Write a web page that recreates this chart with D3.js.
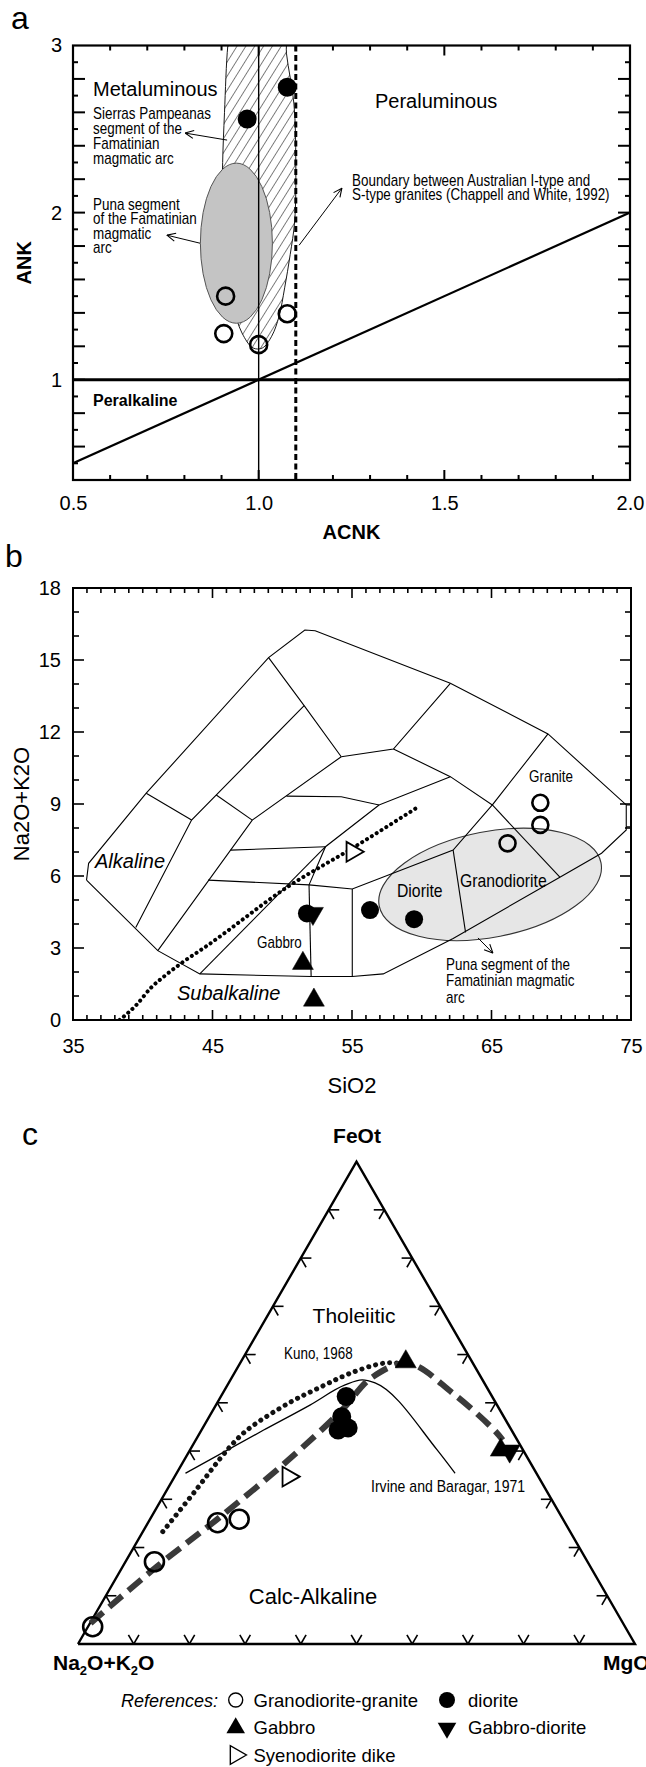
<!DOCTYPE html>
<html>
<head>
<meta charset="utf-8">
<title>Granitoid classification diagrams</title>
<script src="https://cdn.jsdelivr.net/npm/d3@7/dist/d3.min.js"></script>
<style>
  html,body{margin:0;padding:0;background:#fff;}
  svg{display:block;}
  text{font-family:"Liberation Sans",Arial,Helvetica,sans-serif;fill:#000;}
</style>
</head>
<body>
<svg id="fig" width="646" height="1767" viewBox="0 0 646 1767"></svg>
<script>
// ================= Panel a: Shand index, ACNK vs ANK =================
const acnkLabels = [0.5, 1.0, 1.5, 2.0];
const ankLabels = [1, 2, 3];
// diorite samples (filled) and granodiorite-granite samples (open)
const dioriteA = [[0.969, 2.56], [1.077, 2.75]];
const granitoidA = [[0.911, 1.50], [1.077, 1.395], [0.906, 1.276], [1.0, 1.21]];
// Sierras Pampeanas field outline (hatched)
const sierrasField = [[0.927, 3.15], [0.917, 3.0], [0.908, 2.6], [0.903, 2.3], [0.902, 2.0], [0.91, 1.7],
  [0.93, 1.45], [0.955, 1.28], [0.985, 1.19], [1.01, 1.19], [1.035, 1.26], [1.055, 1.38], [1.07, 1.55],
  [1.085, 1.75], [1.097, 1.95], [1.1, 2.3], [1.095, 2.65], [1.075, 2.95], [1.068, 3.15]];
// Puna segment field (grey ellipse): centre, semi-axes in data units
const punaFieldA = {acnk: 0.94, ank: 1.817, ra: 0.097, rb: 0.479};

// ================= Panel b: TAS (SiO2 vs Na2O+K2O) =================
const sio2Labels = [35, 45, 55, 65, 75];
const alkLabels = [0, 3, 6, 9, 12, 15, 18];
const tasOutline = [[35.97, 5.83], [36.12, 6.53], [40.25, 9.45], [49.02, 15.1], [51.62, 16.25], [52.36, 16.22],
  [62.05, 14.03], [69.05, 11.92], [74.66, 8.96], [74.66, 7.92], [72.89, 6.95], [69.9, 5.95], [62.25, 3.40],
  [57.24, 1.92], [55.02, 1.81], [52.07, 1.81], [44.09, 1.92], [41.08, 2.89], [35.97, 5.83]];
const tasBoundaries = [
  [[74.66, 8.96], [75, 8.96]],
  [[74.66, 8.05], [75, 8.05]],
  [[39.5, 3.85], [43.5, 8.33], [51.57, 13.1]],
  [[40.25, 9.45], [43.5, 8.33]],
  [[45.27, 9.375], [47.85, 8.33]],
  [[41.08, 2.89], [47.85, 8.33], [54.23, 10.97]],
  [[49.02, 15.1], [51.57, 13.1], [54.23, 10.97]],
  [[54.23, 10.97], [57.97, 11.29], [62.05, 14.03]],
  [[57.97, 11.29], [62.05, 10.14], [65.06, 8.96], [69.05, 11.92]],
  [[65.06, 8.96], [62.25, 7.08], [55.02, 5.46], [51.92, 5.63], [44.68, 5.83]],
  [[62.25, 7.08], [63.14, 3.65]],
  [[65.06, 8.96], [69.9, 5.95]],
  [[55.02, 5.46], [55.02, 1.81]],
  [[51.92, 5.63], [52.07, 1.81]],
  [[46.3, 7.08], [53.1, 7.22]],
  [[44.09, 1.92], [53.1, 7.22]],
  [[51.92, 5.63], [53.1, 7.22], [56.94, 8.96]],
  [[50.3, 9.33], [54.23, 9.3], [56.94, 8.96], [62.05, 10.14]]
];
// alkaline / subalkaline divide
const alkalineDivide = [[38.33, 0], [39.5, 0.6], [40.6, 1.35], [41.6, 1.85], [42.8, 2.38], [44.5, 3.05],
  [50.4, 5.55], [55.2, 7.22], [59.8, 8.9]];
// Puna segment field: centre, semi-axes (SiO2 units, alkali units), tilt in degrees
const punaFieldB = {si: 64.9, alk: 5.65, ra: 8.1, rb: 2.2, tilt: -11};
const granitoidB = [[68.5, 9.05], [68.5, 8.13], [66.15, 7.36]];
const dioriteB = [[51.77, 4.44], [56.29, 4.58], [59.45, 4.2]];
const gabbroDioriteB = [[52.2, 4.44]];
const gabbroB = [[51.48, 2.36], [52.27, 0.83]];
const dikeB = [[55.02, 7.01]];

// ================= Panel c: AFM ternary [A, F, M] =================
const granitoidC = [[0.624, 0.2515, 0.125], [0.581, 0.2585, 0.160], [0.778, 0.1706, 0.052], [0.956, 0.0359, 0.0084]];
const dioriteC = [[0.262, 0.513, 0.225], [0.291, 0.471, 0.238], [0.311, 0.4436, 0.245], [0.291, 0.448, 0.261]];
const gabbroC = [[0.119, 0.585, 0.296], [0.040, 0.402, 0.558]];
const gabbroDioriteC = [[0.025, 0.400, 0.575]];
const dikeC = [[0.449, 0.347, 0.204]];
const kunoLine = [[0.731, 0.2328, 0.0358], [0.636, 0.313, 0.0512], [0.527, 0.4057, 0.0677], [0.474, 0.4436, 0.082],
  [0.373, 0.499, 0.1282], [0.296, 0.5334, 0.1703], [0.231, 0.5612, 0.2081], [0.161, 0.5819, 0.257], [0.122, 0.5815, 0.2963]];
const irvineLine = [[0.630, 0.3539, 0.0159], [0.445, 0.4436, 0.1116], [0.336, 0.4954, 0.1688], [0.252, 0.5369, 0.211],
  [0.216, 0.5473, 0.2363], [0.196, 0.541, 0.2627], [0.154, 0.4022, 0.4434], [0.146, 0.3539, 0.4999]];
const trendLine = [[0.956, 0.0429, 0.0011], [0.779, 0.1602, 0.061], [0.618, 0.2606, 0.1218], [0.432, 0.3814, 0.187],
  [0.283, 0.4851, 0.2315], [0.199, 0.5508, 0.2503], [0.117, 0.5819, 0.3015], [0.067, 0.5197, 0.4137],
  [0.031, 0.4436, 0.5258], [0.026, 0.4229, 0.5511]];
const ternaryTicks = [0.1, 0.2, 0.3, 0.4, 0.5, 0.6, 0.7, 0.8, 0.9];
const legendItems = [
  {sym: "circleOpen", label: "Granodiorite-granite", col: 0, row: 0},
  {sym: "circle", label: "diorite", col: 1, row: 0},
  {sym: "triangle", label: "Gabbro", col: 0, row: 1},
  {sym: "triangleDown", label: "Gabbro-diorite", col: 1, row: 1},
  {sym: "triangleRight", label: "Syenodiorite dike", col: 0, row: 2}
];

// ---------------------------------------------------------------------
const svg = d3.select("#fig");
const defs = svg.append("defs");

defs.append("marker").attr("id", "openArrow").attr("viewBox", "0 0 10 10")
  .attr("refX", 9.5).attr("refY", 5).attr("markerWidth", 10).attr("markerHeight", 10)
  .attr("markerUnits", "userSpaceOnUse").attr("orient", "auto")
  .append("path").attr("d", "M1,1 L9.5,5 L1,9").attr("fill", "none")
  .attr("stroke", "#000").attr("stroke-width", 1.1);

defs.append("pattern").attr("id", "hatch").attr("patternUnits", "userSpaceOnUse")
  .attr("width", 7.5).attr("height", 7.5).attr("patternTransform", "rotate(32)")
  .append("line").attr("x1", 0).attr("y1", 0).attr("x2", 0).attr("y2", 7.5)
  .attr("stroke", "#000").attr("stroke-width", 1);

const symbolPath = {
  triangle: d3.symbol(d3.symbolTriangle, 190)(),
  triangleDown: d3.symbol(d3.symbolTriangle, 190)(),
  triangleRight: d3.symbol(d3.symbolTriangle, 170)()
};
function drawMarks(g, pts, kind, pos, r) {
  const sel = g.append("g").selectAll("*").data(pts).enter();
  if (kind === "circle" || kind === "circleOpen") {
    sel.append("circle")
      .attr("cx", d => pos(d)[0]).attr("cy", d => pos(d)[1]).attr("r", r)
      .attr("fill", kind === "circle" ? "#000" : "none")
      .attr("stroke", "#000").attr("stroke-width", kind === "circle" ? 0 : 2.6);
  } else {
    const rot = kind === "triangleDown" ? 180 : kind === "triangleRight" ? 90 : 0;
    sel.append("path").attr("d", symbolPath[kind])
      .attr("transform", d => `translate(${pos(d)[0]},${pos(d)[1]}) rotate(${rot})`)
      .attr("fill", kind === "triangleRight" ? "#fff" : "#000")
      .attr("stroke", "#000").attr("stroke-width", kind === "triangleRight" ? 1.8 : 0.5);
  }
}
function styleAxis(g) {
  g.select(".domain").remove();
  g.selectAll(".tick line").remove();
}
// condensed annotation text (horizontally compressed Liberation Sans)
function narrow(g, x, y, lines, size, dy, sx) {
  const t = g.append("text").attr("transform", `translate(${x},${y}) scale(${sx || 0.84},1)`)
    .style("font-size", size + "px");
  lines.forEach((s, i) => t.append("tspan").attr("x", 0).attr("y", i * (dy || 0)).text(s));
  return t;
}

// ======================= Panel a =======================
const A = {l: 73, r: 630, t: 45.5, b: 480};
const xa = d3.scaleLinear().domain([0.5, 2.0]).range([A.l, A.r]);
const ya = d3.scaleLinear().domain([0.4, 3.0]).range([A.b, A.t]);
const ga = svg.append("g");
defs.append("clipPath").attr("id", "clipA").append("rect")
  .attr("x", A.l).attr("y", A.t).attr("width", A.r - A.l).attr("height", A.b - A.t);

const gaIn = ga.append("g").attr("clip-path", "url(#clipA)");
gaIn.append("path").datum(sierrasField)
  .attr("d", d3.line().x(d => xa(d[0])).y(d => ya(d[1])).curve(d3.curveCatmullRomClosed.alpha(0.5)))
  .attr("fill", "url(#hatch)").attr("stroke", "#000").attr("stroke-width", 0.9);
gaIn.append("ellipse")
  .attr("cx", xa(punaFieldA.acnk)).attr("cy", ya(punaFieldA.ank))
  .attr("rx", xa(punaFieldA.acnk + punaFieldA.ra) - xa(punaFieldA.acnk))
  .attr("ry", ya(punaFieldA.ank - punaFieldA.rb) - ya(punaFieldA.ank))
  .attr("fill", "#c4c4c4").attr("stroke", "#555").attr("stroke-width", 1);
// reference lines
gaIn.append("line").attr("x1", xa(1)).attr("x2", xa(1)).attr("y1", A.t).attr("y2", A.b)
  .attr("stroke", "#000").attr("stroke-width", 1.4);
gaIn.append("line").attr("x1", xa(1.1)).attr("x2", xa(1.1)).attr("y1", A.t).attr("y2", A.b)
  .attr("stroke", "#000").attr("stroke-width", 3).attr("stroke-dasharray", "6,3.5");
gaIn.append("line").attr("x1", A.l).attr("x2", A.r).attr("y1", ya(1)).attr("y2", ya(1))
  .attr("stroke", "#000").attr("stroke-width", 3);
gaIn.append("line").attr("x1", xa(0.5)).attr("y1", ya(0.5)).attr("x2", xa(2.0)).attr("y2", ya(2.0))
  .attr("stroke", "#000").attr("stroke-width", 2.2);

drawMarks(ga, dioriteA, "circle", d => [xa(d[0]), ya(d[1])], 9.5);
drawMarks(ga, granitoidA, "circleOpen", d => [xa(d[0]), ya(d[1])], 8.5);

// annotation arrows
const arrowsA = [
  [[0.915, 2.434], [0.802, 2.476]],
  [[0.842, 1.817], [0.753, 1.865]],
  [[1.109, 1.805], [1.224, 2.146]]
];
ga.selectAll(".arrA").data(arrowsA).enter().append("line")
  .attr("x1", d => xa(d[0][0])).attr("y1", d => ya(d[0][1]))
  .attr("x2", d => xa(d[1][0])).attr("y2", d => ya(d[1][1]))
  .attr("stroke", "#000").attr("stroke-width", 1).attr("marker-end", "url(#openArrow)");

// inward ticks
const acnkMinor = d3.range(6, 20).map(d => d / 10);
const ankMinor = d3.range(5, 30).map(d => d / 10);
const ankLen = d => (Math.round(d * 10) % 2 === 0 ? 12 : 5);
const acnkLen = d => (Math.abs(d - 1.5) < 1e-6 || Math.abs(d - 1.0) < 1e-6 ? 10 : 5);
[["bottom", A.b], ["top", A.t]].forEach(([side, yPos]) => {
  acnkMinor.forEach(v => {
    ga.append("line").attr("x1", xa(v)).attr("x2", xa(v))
      .attr("y1", yPos).attr("y2", side === "bottom" ? yPos - acnkLen(v) : yPos + acnkLen(v))
      .attr("stroke", "#000").attr("stroke-width", 2);
  });
});
[["left", A.l], ["right", A.r]].forEach(([side, xPos]) => {
  ankMinor.forEach(v => {
    ga.append("line").attr("y1", ya(v)).attr("y2", ya(v))
      .attr("x1", xPos).attr("x2", side === "left" ? xPos + ankLen(v) : xPos - ankLen(v))
      .attr("stroke", "#000").attr("stroke-width", 2);
  });
});
const axA_b = ga.append("g").attr("transform", `translate(0,${A.b})`)
  .call(d3.axisBottom(xa).tickValues(acnkLabels).tickSize(0).tickPadding(16).tickFormat(d3.format(".1f")));
styleAxis(axA_b);
axA_b.selectAll("text").style("font-size", "20px");
const axA_l = ga.append("g").attr("transform", `translate(${A.l},0)`)
  .call(d3.axisLeft(ya).tickValues(ankLabels).tickSize(0).tickPadding(11).tickFormat(d3.format("d")));
styleAxis(axA_l);
axA_l.selectAll("text").style("font-size", "20px");
ga.append("rect").attr("x", A.l).attr("y", A.t).attr("width", A.r - A.l).attr("height", A.b - A.t)
  .attr("fill", "none").attr("stroke", "#000").attr("stroke-width", 2.2);

ga.append("text").attr("x", (A.l + A.r) / 2).attr("y", 539).attr("text-anchor", "middle")
  .style("font-size", "20px").style("font-weight", "bold").text("ACNK");
ga.append("text").attr("transform", `translate(31,${(A.t + A.b) / 2}) rotate(-90)`).attr("text-anchor", "middle")
  .style("font-size", "20px").style("font-weight", "bold").text("ANK");
ga.append("text").attr("x", 11).attr("y", 29).style("font-size", "32px").text("a");

ga.append("text").attr("x", 93).attr("y", 96).style("font-size", "20px").text("Metaluminous");
ga.append("text").attr("x", 375).attr("y", 108).style("font-size", "20px").text("Peraluminous");
ga.append("text").attr("x", 93).attr("y", 406).style("font-size", "16px").style("font-weight", "bold").text("Peralkaline");
narrow(ga, 93, 119, ["Sierras Pampeanas", "segment of the", "Famatinian", "magmatic arc"], 16, 15);
narrow(ga, 93, 210, ["Puna segment", "of the Famatinian", "magmatic", "arc"], 16, 14.5);
narrow(ga, 352, 186, ["Boundary between Australian I-type and", "S-type granites (Chappell and White, 1992)"], 16, 14.5);

// ======================= Panel b =======================
const B = {l: 73, r: 631, t: 588, b: 1020};
const xb = d3.scaleLinear().domain([35, 75]).range([B.l, B.r]);
const yb = d3.scaleLinear().domain([0, 18]).range([B.b, B.t]);
const gb = svg.append("g");
defs.append("clipPath").attr("id", "clipB").append("rect")
  .attr("x", B.l).attr("y", B.t).attr("width", B.r - B.l).attr("height", B.b - B.t);
const gbIn = gb.append("g").attr("clip-path", "url(#clipB)");
const lineB = d3.line().x(d => xb(d[0])).y(d => yb(d[1]));

// Puna segment field
const pcx = xb(punaFieldB.si), pcy = yb(punaFieldB.alk);
gbIn.append("ellipse").attr("cx", 0).attr("cy", 0)
  .attr("rx", xb(punaFieldB.si + punaFieldB.ra) - pcx)
  .attr("ry", yb(0) - yb(punaFieldB.rb))
  .attr("transform", `translate(${pcx},${pcy}) rotate(${punaFieldB.tilt})`)
  .attr("fill", "#e6e6e6").attr("stroke", "#333").attr("stroke-width", 1.1);

gbIn.append("path").datum(tasOutline).attr("d", lineB)
  .attr("fill", "none").attr("stroke", "#000").attr("stroke-width", 1.1);
gbIn.selectAll(".tasb").data(tasBoundaries).enter().append("path").attr("d", lineB)
  .attr("fill", "none").attr("stroke", "#000").attr("stroke-width", 1.1);
gbIn.append("path").datum(alkalineDivide)
  .attr("d", d3.line().x(d => xb(d[0])).y(d => yb(d[1])).curve(d3.curveMonotoneX))
  .attr("fill", "none").attr("stroke", "#000").attr("stroke-width", 4)
  .attr("stroke-linecap", "round").attr("stroke-dasharray", "0.1,5.6");

const pb = d => [xb(d[0]), yb(d[1])];
drawMarks(gb, granitoidB, "circleOpen", pb, 8);
drawMarks(gb, dioriteB, "circle", pb, 9);
drawMarks(gb, gabbroDioriteB, "triangleDown", pb);
drawMarks(gb, gabbroB, "triangle", pb);
drawMarks(gb, dikeB, "triangleRight", pb);

gb.append("line").attr("x1", xb(64.03)).attr("y1", yb(3.42)).attr("x2", xb(65.1)).attr("y2", yb(2.79))
  .attr("stroke", "#000").attr("stroke-width", 1).attr("marker-end", "url(#openArrow)");

// inward ticks
const sio2Minor = d3.range(36, 75);
const alkMinor = d3.range(1, 18);
sio2Minor.forEach(v => {
  const L = v % 10 === 5 ? 10 : 5;
  gb.append("line").attr("x1", xb(v)).attr("x2", xb(v)).attr("y1", B.b).attr("y2", B.b - L).attr("stroke", "#000").attr("stroke-width", 1.6);
  gb.append("line").attr("x1", xb(v)).attr("x2", xb(v)).attr("y1", B.t).attr("y2", B.t + L).attr("stroke", "#000").attr("stroke-width", 1.6);
});
alkMinor.forEach(v => {
  const L = v % 3 === 0 ? 11 : 6;
  gb.append("line").attr("y1", yb(v)).attr("y2", yb(v)).attr("x1", B.l).attr("x2", B.l + L).attr("stroke", "#000").attr("stroke-width", 1.6);
  gb.append("line").attr("y1", yb(v)).attr("y2", yb(v)).attr("x1", B.r).attr("x2", B.r - L).attr("stroke", "#000").attr("stroke-width", 1.6);
});
const axB_b = gb.append("g").attr("transform", `translate(0,${B.b})`)
  .call(d3.axisBottom(xb).tickValues(sio2Labels).tickSize(0).tickPadding(19).tickFormat(d3.format("d")));
styleAxis(axB_b);
axB_b.selectAll("text").style("font-size", "20px");
const axB_l = gb.append("g").attr("transform", `translate(${B.l},0)`)
  .call(d3.axisLeft(yb).tickValues(alkLabels).tickSize(0).tickPadding(12).tickFormat(d3.format("d")));
styleAxis(axB_l);
axB_l.selectAll("text").style("font-size", "20px");
gb.append("rect").attr("x", B.l).attr("y", B.t).attr("width", B.r - B.l).attr("height", B.b - B.t)
  .attr("fill", "none").attr("stroke", "#000").attr("stroke-width", 2);

gb.append("text").attr("x", (B.l + B.r) / 2).attr("y", 1093).attr("text-anchor", "middle").style("font-size", "22px").text("SiO2");
gb.append("text").attr("transform", `translate(29,${(B.t + B.b) / 2}) rotate(-90)`).attr("text-anchor", "middle")
  .style("font-size", "22px").text("Na2O+K2O");
gb.append("text").attr("x", 5).attr("y", 567).style("font-size", "32px").text("b");

gb.append("text").attr("x", 95).attr("y", 868).style("font-size", "20px").style("font-style", "italic").text("Alkaline");
gb.append("text").attr("x", 177).attr("y", 1000).style("font-size", "20px").style("font-style", "italic").text("Subalkaline");
narrow(gb, 257, 948, ["Gabbro"], 16);
narrow(gb, 397, 897, ["Diorite"], 19, 0, 0.83);
narrow(gb, 460, 887, ["Granodiorite"], 19, 0, 0.83);
narrow(gb, 529, 782, ["Granite"], 16);
narrow(gb, 446, 970, ["Puna segment of the", "Famatinian magmatic", "arc"], 16, 16.5);

// ======================= Panel c =======================
const T = {ax: 78, mx: 635, base: 1644, apex: 1161.6};
const tx = d3.scaleLinear().domain([0, 1]).range([T.ax, T.mx]);
const ty = d3.scaleLinear().domain([0, 1]).range([T.base, T.apex]);
function tern(d) {
  const s = d[0] + d[1] + d[2];
  const f = d[1] / s, m = d[2] / s;
  return [tx(m + f / 2), ty(f)];
}
const gc = svg.append("g");
const lineC = d3.line().x(d => tern(d)[0]).y(d => tern(d)[1]);
gc.append("path").datum([[1, 0, 0], [0, 0, 1], [0, 1, 0], [1, 0, 0]]).attr("d", lineC)
  .attr("fill", "none").attr("stroke", "#000").attr("stroke-width", 2.4).attr("stroke-linejoin", "miter");

// tick marks: short strokes parallel to the other two sides
const dT = 0.019;
const tickSegs = [];
ternaryTicks.forEach(t => {
  const pB = [1 - t, 0, t];
  tickSegs.push([pB, [1 - t - dT, dT, t]], [pB, [1 - t, dT, t - dT]]);
  const pL = [1 - t, t, 0];
  tickSegs.push([pL, [1 - t - dT, t, dT]], [pL, [1 - t, t - dT, dT]]);
  const pR = [0, t, 1 - t];
  tickSegs.push([pR, [dT, t, 1 - t - dT]], [pR, [dT, t - dT, 1 - t]]);
});
gc.selectAll(".ttk").data(tickSegs).enter().append("path").attr("d", lineC)
  .attr("stroke", "#000").attr("stroke-width", 1.6).attr("fill", "none");

const smooth = d3.line().x(d => tern(d)[0]).y(d => tern(d)[1]).curve(d3.curveCatmullRom.alpha(0.5));
gc.append("path").datum(irvineLine).attr("d", d3.line().x(d => tern(d)[0]).y(d => tern(d)[1]).curve(d3.curveMonotoneX))
  .attr("fill", "none").attr("stroke", "#000").attr("stroke-width", 1.3);
gc.append("path").datum(kunoLine).attr("d", smooth)
  .attr("fill", "none").attr("stroke", "#111").attr("stroke-width", 5)
  .attr("stroke-linecap", "round").attr("stroke-dasharray", "0.1,7");
gc.append("path").datum(trendLine).attr("d", smooth)
  .attr("fill", "none").attr("stroke", "#3a3a3a").attr("stroke-width", 6)
  .attr("stroke-dasharray", "17,8");

drawMarks(gc, granitoidC, "circleOpen", tern, 9.5);
drawMarks(gc, dioriteC, "circle", tern, 9.5);
drawMarks(gc, gabbroC, "triangle", tern);
drawMarks(gc, gabbroDioriteC, "triangleDown", tern);
drawMarks(gc, dikeC, "triangleRight", tern);

gc.append("text").attr("x", 357).attr("y", 1143).attr("text-anchor", "middle")
  .style("font-size", "21px").style("font-weight", "bold").text("FeOt");
const naLab = gc.append("text").attr("x", 53).attr("y", 1670).style("font-size", "21px").style("font-weight", "bold");
naLab.append("tspan").text("Na");
naLab.append("tspan").attr("dy", 5).style("font-size", "13px").text("2");
naLab.append("tspan").attr("dy", -5).text("O+K");
naLab.append("tspan").attr("dy", 5).style("font-size", "13px").text("2");
naLab.append("tspan").attr("dy", -5).text("O");
gc.append("text").attr("x", 603).attr("y", 1670).style("font-size", "21px").style("font-weight", "bold").text("MgO");
gc.append("text").attr("x", 22).attr("y", 1145).style("font-size", "32px").text("c");

gc.append("text").attr("x", 354).attr("y", 1323).attr("text-anchor", "middle").style("font-size", "21px").text("Tholeiitic");
gc.append("text").attr("x", 313).attr("y", 1604).attr("text-anchor", "middle").style("font-size", "22px").text("Calc-Alkaline");
narrow(gc, 284, 1359, ["Kuno, 1968"], 16);
narrow(gc, 371, 1492, ["Irvine and Baragar, 1971"], 16, 0, 0.88);

// legend
const lg = gc.append("g");
lg.append("text").attr("x", 121).attr("y", 1707).style("font-size", "18px").style("font-style", "italic").text("References:");
const colX = [235.7, 447], rowY = [1700, 1727, 1755], textX = [253.5, 468];
legendItems.forEach(it => {
  const cx = colX[it.col], cy = rowY[it.row];
  if (it.sym === "circleOpen" || it.sym === "circle") {
    lg.append("circle").attr("cx", cx).attr("cy", cy).attr("r", it.sym === "circle" ? 8 : 7)
      .attr("fill", it.sym === "circle" ? "#000" : "none").attr("stroke", "#000").attr("stroke-width", it.sym === "circle" ? 0 : 1.4);
  } else {
    const rot = it.sym === "triangleDown" ? 180 : it.sym === "triangleRight" ? 90 : 0;
    lg.append("path").attr("d", d3.symbol(d3.symbolTriangle, 150)())
      .attr("transform", `translate(${cx},${cy + (it.sym === "triangleRight" ? 0 : 1)}) rotate(${rot})`)
      .attr("fill", it.sym === "triangleRight" ? "#fff" : "#000").attr("stroke", "#000").attr("stroke-width", it.sym === "triangleRight" ? 1.4 : 0);
  }
  lg.append("text").attr("x", textX[it.col]).attr("y", cy + 7).style("font-size", "18.5px").text(it.label);
});
</script>
</body>
</html>
